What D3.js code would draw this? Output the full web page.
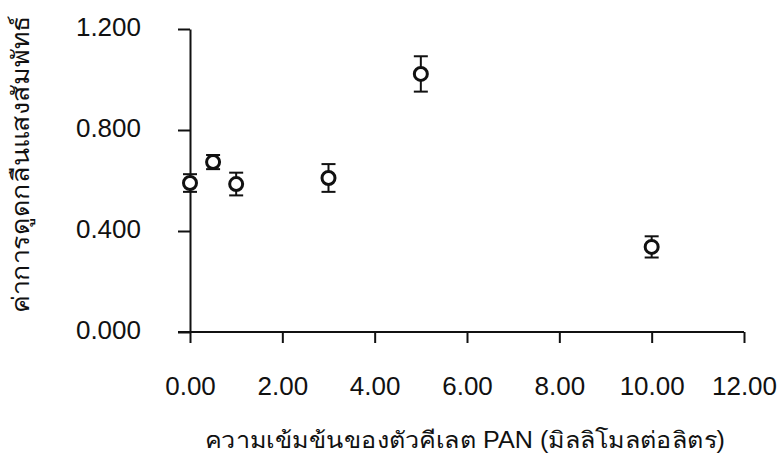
<!DOCTYPE html>
<html><head><meta charset="utf-8">
<script src="https://cdn.jsdelivr.net/npm/d3@7/dist/d3.min.js"></script>
<style>body{margin:0;background:#fff}svg{display:block}text{font-family:"Liberation Sans",Arial,"Noto Sans",sans-serif;fill:#111}</style>
</head><body>
<script>
const concentrations = [0, 0.5, 1, 3, 5, 10];
const absorbance = [0.590, 0.673, 0.586, 0.610, 1.022, 0.337];
const errors = [0.035, 0.028, 0.045, 0.055, 0.070, 0.042];
const xTicks = [0, 2, 4, 6, 8, 10, 12];
const yTicks = [0, 0.4, 0.8, 1.2];
const xTitle = "ความเข้มข้นของตัวคีเลต  PAN (มิลลิโมลต่อลิตร)";
const yTitle = "ค่าการดูดกลืนแสงสัมพัทธ์";

const W = 782, H = 464;
const svg = d3.select("body").append("svg").attr("width", W).attr("height", H);
const x = d3.scaleLinear().domain([0, 12]).range([190, 744]);
const y = d3.scaleLinear().domain([0, 1.2]).range([332, 29]);

const xAxis = svg.append("g").attr("transform", `translate(0,${y(0)})`)
  .call(d3.axisBottom(x).tickValues(xTicks).tickSize(11).tickSizeOuter(0).tickFormat(d3.format(".2f")));
xAxis.select(".domain").attr("d", `M178,0H${x(12)}`);
xAxis.selectAll(".tick text").attr("y", 63).attr("dy", null);
const yAxis = svg.append("g").attr("transform", `translate(${x(0)},0)`)
  .call(d3.axisLeft(y).tickValues(yTicks).tickSize(12).tickSizeOuter(0).tickFormat(d3.format(".3f")));
yAxis.selectAll(".tick text").attr("x", -49).attr("dy", null).attr("y", 6);
[xAxis, yAxis].forEach(a => {
  a.selectAll("path,line").attr("stroke", "#111").attr("stroke-width", 2);
  a.selectAll("text").attr("font-size", 26).attr("fill", "#111");
});

const pts = concentrations.map((c, i) => ({c, v: absorbance[i], e: errors[i]}));
const g = svg.append("g").attr("stroke", "#111").attr("fill", "none");
pts.forEach(p => {
  const cx = x(p.c), t = y(p.v + p.e), b = y(p.v - p.e);
  g.append("line").attr("x1", cx).attr("x2", cx).attr("y1", t).attr("y2", b).attr("stroke-width", 2);
  g.append("line").attr("x1", cx - 7).attr("x2", cx + 7).attr("y1", t).attr("y2", t).attr("stroke-width", 2);
  g.append("line").attr("x1", cx - 7).attr("x2", cx + 7).attr("y1", b).attr("y2", b).attr("stroke-width", 2);
  g.append("circle").attr("cx", cx).attr("cy", y(p.v)).attr("r", 6.5).attr("fill", "#fff").attr("stroke-width", 3);
});

svg.append("text").attr("x", 465).attr("y", 448).attr("text-anchor", "middle")
  .attr("font-size", 23).attr("textLength", 520).attr("lengthAdjust", "spacingAndGlyphs").text(xTitle);
svg.append("text").attr("transform", "translate(29,164) rotate(-90)").attr("text-anchor", "middle")
  .attr("font-size", 24).attr("textLength", 298).attr("lengthAdjust", "spacingAndGlyphs").text(yTitle);
</script>
</body></html>
